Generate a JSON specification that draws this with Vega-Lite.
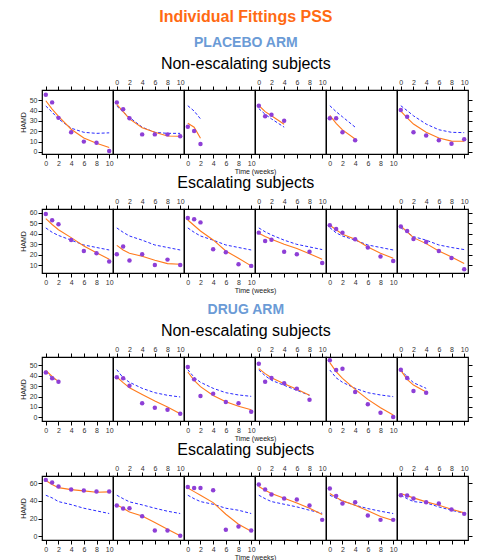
{
"$schema":"https://vega.github.io/schema/vega-lite/v6.json",
"padding":{"left":18,"top":9,"right":5,"bottom":0},
"title":{"text":"Individual Fittings PSS","fontSize":16,"fontWeight":"bold","color":"#ff6a13","offset":11},
"datasets":{
"r1":[
{"p":1,"t":0,"o":55.4,"f":49.6,"e":44.5},{"p":1,"t":1,"o":48,"f":41.5,"e":38.5},{"p":1,"t":2,"o":33,"f":34.5,"e":32},{"p":1,"t":4,"o":19,"f":22,"e":23},{"p":1,"t":6,"o":10,"f":13.5,"e":19},{"p":1,"t":8,"o":9,"f":8.5,"e":18},{"p":1,"t":10,"o":1,"f":4.2,"e":18.5},
{"p":2,"t":0,"o":48,"f":46,"e":44.5},{"p":2,"t":1,"o":41.3,"f":39,"e":38.5},{"p":2,"t":2,"o":32.6,"f":32,"e":33.5},{"p":2,"t":4,"o":17,"f":23.5,"e":24},{"p":2,"t":6,"o":17,"f":19,"e":19},{"p":2,"t":8,"o":17,"f":15.5,"e":18},{"p":2,"t":10,"o":15.2,"f":15.2,"e":18},
{"p":3,"t":0,"o":24.5,"f":27.7,"e":44.8},{"p":3,"t":1,"o":20.3,"f":24,"e":39.6},{"p":3,"t":2,"o":7.7,"f":13.2,"e":32},
{"p":4,"t":0,"o":44.8,"f":45,"e":42},{"p":4,"t":1,"o":34.5,"f":39,"e":36.5},{"p":4,"t":2,"o":36,"f":35,"e":32},{"p":4,"t":4,"o":30.3,"f":26.8,"e":24},
{"p":5,"t":0,"o":32.6,"f":35.5,"e":44.8},{"p":5,"t":1,"o":32.6,"f":27.7,"e":39},{"p":5,"t":2,"o":19,"f":21.3,"e":34},{"p":5,"t":4,"o":11.3,"f":12.6,"e":24},
{"p":6,"t":0,"o":40.6,"f":39.6,"e":44.8},{"p":6,"t":1,"o":34,"f":33,"e":40},{"p":6,"t":2,"o":19,"f":27,"e":35},{"p":6,"t":4,"o":16,"f":19,"e":27},{"p":6,"t":6,"o":11.3,"f":13.5,"e":21.5},{"p":6,"t":8,"o":8,"f":10.5,"e":19},{"p":6,"t":10,"o":12.3,"f":10.3,"e":18.7}
],
"r2":[
{"p":1,"t":0,"o":59,"f":54.6,"e":45.7},{"p":1,"t":1,"o":53,"f":49,"e":41.5},{"p":1,"t":2,"o":49.2,"f":44,"e":38.5},{"p":1,"t":4,"o":34.2,"f":36.4,"e":34},{"p":1,"t":6,"o":23.7,"f":28.5,"e":29.4},{"p":1,"t":8,"o":21.5,"f":22,"e":27},{"p":1,"t":10,"o":13.5,"f":15.7,"e":24.6},
{"p":2,"t":0,"o":20.5,"f":29,"e":45.7},{"p":2,"t":1,"o":28,"f":24.6,"e":41.5},{"p":2,"t":2,"o":14.5,"f":21.5,"e":38},{"p":2,"t":4,"o":20.5,"f":18.6,"e":34},{"p":2,"t":6,"o":10.3,"f":14.8,"e":29.4},{"p":2,"t":8,"o":15.4,"f":11.6,"e":27},{"p":2,"t":10,"o":10.3,"f":11,"e":24.6},
{"p":3,"t":0,"o":55.2,"f":53.3,"e":45.7},{"p":3,"t":1,"o":54,"f":48,"e":41.5},{"p":3,"t":2,"o":51,"f":42.8,"e":38},{"p":3,"t":4,"o":25.3,"f":34.2,"e":34},{"p":3,"t":6,"o":22.4,"f":23.7,"e":29.4},{"p":3,"t":8,"o":11,"f":16.7,"e":27},{"p":3,"t":10,"o":9.4,"f":9.4,"e":24.6},
{"p":4,"t":0,"o":41.2,"f":40.6,"e":45.7},{"p":4,"t":1,"o":33.2,"f":37.5,"e":42},{"p":4,"t":2,"o":34.5,"f":34.8,"e":39},{"p":4,"t":4,"o":23,"f":30,"e":34},{"p":4,"t":6,"o":20.5,"f":26,"e":30},{"p":4,"t":8,"o":23,"f":21,"e":27.5},{"p":4,"t":10,"o":12.2,"f":15.7,"e":25},
{"p":5,"t":0,"o":48.2,"f":48.2,"e":46},{"p":5,"t":1,"o":44.7,"f":44,"e":41},{"p":5,"t":2,"o":41.2,"f":39.6,"e":38},{"p":5,"t":4,"o":34.8,"f":34.8,"e":34},{"p":5,"t":6,"o":26.9,"f":27.5,"e":29.4},{"p":5,"t":8,"o":18.3,"f":21.5,"e":27},{"p":5,"t":10,"o":14.1,"f":16.7,"e":24.6},
{"p":6,"t":0,"o":47,"f":47.6,"e":46},{"p":6,"t":1,"o":42.8,"f":42,"e":41.5},{"p":6,"t":2,"o":35.2,"f":36.4,"e":37.4},{"p":6,"t":4,"o":32.3,"f":30.7,"e":34},{"p":6,"t":6,"o":23.7,"f":23.7,"e":29.4},{"p":6,"t":8,"o":17,"f":18,"e":27},{"p":6,"t":10,"o":6.2,"f":11.6,"e":25}
],
"r3":[
{"p":1,"t":0,"o":43,"f":45,"e":44},{"p":1,"t":1,"o":37.5,"f":39.4,"e":38},{"p":1,"t":2,"o":34.3,"f":34.3,"e":35},
{"p":2,"t":0,"o":38.5,"f":38.8,"e":45.8},{"p":2,"t":1,"o":37.5,"f":33.3,"e":38},{"p":2,"t":2,"o":30.4,"f":28.5,"e":33.7},{"p":2,"t":4,"o":13.5,"f":22,"e":27.9},{"p":2,"t":6,"o":9.3,"f":15.7,"e":23.7},{"p":2,"t":8,"o":7.4,"f":10,"e":21.2},{"p":2,"t":10,"o":3.5,"f":3.5,"e":19.6},
{"p":3,"t":0,"o":48.4,"f":43.6,"e":45.8},{"p":3,"t":1,"o":36.5,"f":35.6,"e":38.5},{"p":3,"t":2,"o":20.5,"f":29.5,"e":33.7},{"p":3,"t":4,"o":22.8,"f":21,"e":27.9},{"p":3,"t":6,"o":14.7,"f":15,"e":23.7},{"p":3,"t":8,"o":13.5,"f":10.6,"e":21.5},{"p":3,"t":10,"o":5.4,"f":7.4,"e":20.2},
{"p":4,"t":0,"o":51.6,"f":46.8,"e":45.5},{"p":4,"t":1,"o":34.3,"f":42,"e":40},{"p":4,"t":2,"o":37.8,"f":38.1,"e":35.6},{"p":4,"t":4,"o":32.7,"f":32.4,"e":30.8},{"p":4,"t":6,"o":27.6,"f":26.9,"e":26},{"p":4,"t":8,"o":17,"f":21.2,"e":21.2},
{"p":5,"t":0,"o":54.8,"f":52.6,"e":45.5},{"p":5,"t":1,"o":45.5,"f":43.9,"e":38},{"p":5,"t":2,"o":46.8,"f":37.5,"e":33.7},{"p":5,"t":4,"o":24.4,"f":26.9,"e":27.9},{"p":5,"t":6,"o":12.5,"f":17.3,"e":23.7},{"p":5,"t":8,"o":4.5,"f":9.3,"e":21.5},{"p":5,"t":10,"o":0.3,"f":2.2,"e":19.9},
{"p":6,"t":0,"o":45.8,"f":45.2,"e":45.8},{"p":6,"t":1,"o":37.8,"f":36.5,"e":39},{"p":6,"t":2,"o":25.3,"f":31,"e":33.3},{"p":6,"t":4,"o":23.7,"f":24.4,"e":27.9}
],
"r4":[
{"p":1,"t":0,"o":63.8,"f":63,"e":46.4},{"p":1,"t":1,"o":60.8,"f":58.5,"e":43.4},{"p":1,"t":2,"o":56.2,"f":55,"e":39.2},{"p":1,"t":4,"o":52.8,"f":52.8,"e":35.8},{"p":1,"t":6,"o":51.7,"f":51.3,"e":31.7},{"p":1,"t":8,"o":50.6,"f":49.8,"e":28.7},{"p":1,"t":10,"o":50.6,"f":50.2,"e":25.7},
{"p":2,"t":0,"o":34.7,"f":35.5,"e":46.4},{"p":2,"t":1,"o":31.3,"f":31.7,"e":42.5},{"p":2,"t":2,"o":31.7,"f":27.5,"e":38.9},{"p":2,"t":4,"o":22.6,"f":23,"e":35.5},{"p":2,"t":6,"o":6.4,"f":15.5,"e":31.7},{"p":2,"t":8,"o":6.4,"f":7.9,"e":28.3},{"p":2,"t":10,"o":0.4,"f":0.4,"e":25.7},
{"p":3,"t":0,"o":55.8,"f":54.7,"e":46.4},{"p":3,"t":1,"o":54.7,"f":50.5,"e":42.5},{"p":3,"t":2,"o":54.7,"f":46.4,"e":39.2},{"p":3,"t":4,"o":52,"f":38.1,"e":36.2},{"p":3,"t":6,"o":7.2,"f":24.9,"e":31.7},{"p":3,"t":8,"o":10.9,"f":13.6,"e":29.4},{"p":3,"t":10,"o":6.4,"f":5.7,"e":25.7},
{"p":4,"t":0,"o":58.5,"f":56.2,"e":46.4},{"p":4,"t":1,"o":52.8,"f":52,"e":42.5},{"p":4,"t":2,"o":47.2,"f":48.3,"e":39.2},{"p":4,"t":4,"o":42.6,"f":43,"e":36.2},{"p":4,"t":6,"o":41.5,"f":37.7,"e":33.2},{"p":4,"t":8,"o":34.7,"f":31.7,"e":29.4},{"p":4,"t":10,"o":18.5,"f":24.5,"e":26},
{"p":5,"t":0,"o":54,"f":48.3,"e":46.4},{"p":5,"t":1,"o":45.7,"f":44,"e":43},{"p":5,"t":2,"o":37,"f":40,"e":40},{"p":5,"t":4,"o":38.5,"f":35.1,"e":35.1},{"p":5,"t":6,"o":23.4,"f":28.7,"e":31.3},{"p":5,"t":8,"o":18.5,"f":22.3,"e":28.3},{"p":5,"t":10,"o":18.5,"f":17.7,"e":25.7},
{"p":6,"t":0,"o":46.4,"f":48.3,"e":46.4},{"p":6,"t":1,"o":46,"f":45.8,"e":42.5},{"p":6,"t":2,"o":42.6,"f":43.4,"e":39.2},{"p":6,"t":4,"o":38.5,"f":38.9,"e":37.7},{"p":6,"t":6,"o":37,"f":35.1,"e":33.2},{"p":6,"t":8,"o":30.2,"f":30.6,"e":29.4},{"p":6,"t":10,"o":25.3,"f":26.4,"e":26}
]
},
"spacing":9,
"vconcat":[
{"title":{"text":"PLACEBO ARM","fontSize":14,"fontWeight":"bold","color":"#6b9bd6","offset":6},"spacing":0,"vconcat":[
 {"title":{"text":"Non-escalating subjects","offset":5},"spacing":0,"bounds":"flush","hconcat":[
  {"width":71,"height":64,"data":{"name":"r1"},"transform":[{"filter":"datum.p==1"}],"resolve":{"axis":{"x":"independent","y":"independent"}},"layer":[
   {"mark":{"type":"line","stroke":"#2a2aff","strokeDash":[3,2],"strokeWidth":1},"encoding":{"x":{"field":"t","type":"quantitative","scale":{"domain":[-0.6,10.6],"nice":false,"zero":false},"axis":{"orient":"bottom","values":[0,2,4,6,8,10],"labels":true,"title":null}},"y":{"field":"e","type":"quantitative","scale":{"domain":[-2,60],"nice":false,"zero":false},"axis":{"orient":"left","values":[0,10,20,30,40,50],"title":"HAMD"}}}},
   {"mark":{"type":"line","stroke":"#ff7a1c","strokeWidth":1.1},"encoding":{"x":{"field":"t","type":"quantitative","axis":{"orient":"top","values":[0,2,4,6,8,10],"labels":false,"title":null}},"y":{"field":"f","type":"quantitative","axis":null}}},
   {"mark":{"type":"circle","fill":"#8e3fd6","size":20,"opacity":1},"encoding":{"x":{"field":"t","type":"quantitative","axis":null},"y":{"field":"o","type":"quantitative","axis":null}}}]},
  {"width":71,"height":64,"data":{"name":"r1"},"transform":[{"filter":"datum.p==2"}],"resolve":{"axis":{"x":"independent","y":"independent"}},"layer":[
   {"mark":{"type":"line","stroke":"#2a2aff","strokeDash":[3,2],"strokeWidth":1},"encoding":{"x":{"field":"t","type":"quantitative","scale":{"domain":[-0.6,10.6],"nice":false,"zero":false},"axis":{"orient":"bottom","values":[0,2,4,6,8,10],"labels":false,"title":null}},"y":{"field":"e","type":"quantitative","scale":{"domain":[-2,60],"nice":false,"zero":false},"axis":null}}},
   {"mark":{"type":"line","stroke":"#ff7a1c","strokeWidth":1.1},"encoding":{"x":{"field":"t","type":"quantitative","axis":{"orient":"top","values":[0,2,4,6,8,10],"labels":true,"title":null}},"y":{"field":"f","type":"quantitative","axis":null}}},
   {"mark":{"type":"circle","fill":"#8e3fd6","size":20,"opacity":1},"encoding":{"x":{"field":"t","type":"quantitative","axis":null},"y":{"field":"o","type":"quantitative","axis":null}}}]},
  {"width":71,"height":64,"data":{"name":"r1"},"transform":[{"filter":"datum.p==3"}],"resolve":{"axis":{"x":"independent","y":"independent"}},"layer":[
   {"mark":{"type":"line","stroke":"#2a2aff","strokeDash":[3,2],"strokeWidth":1},"encoding":{"x":{"field":"t","type":"quantitative","scale":{"domain":[-0.6,10.6],"nice":false,"zero":false},"axis":{"orient":"bottom","values":[0,2,4,6,8,10],"labels":true,"title":"Time (weeks)","titleAnchor":"end","titleAlign":"center","titleFontSize":7,"titlePadding":1}},"y":{"field":"e","type":"quantitative","scale":{"domain":[-2,60],"nice":false,"zero":false},"axis":null}}},
   {"mark":{"type":"line","stroke":"#ff7a1c","strokeWidth":1.1},"encoding":{"x":{"field":"t","type":"quantitative","axis":{"orient":"top","values":[0,2,4,6,8,10],"labels":false,"title":null}},"y":{"field":"f","type":"quantitative","axis":null}}},
   {"mark":{"type":"circle","fill":"#8e3fd6","size":20,"opacity":1},"encoding":{"x":{"field":"t","type":"quantitative","axis":null},"y":{"field":"o","type":"quantitative","axis":null}}}]},
  {"width":71,"height":64,"data":{"name":"r1"},"transform":[{"filter":"datum.p==4"}],"resolve":{"axis":{"x":"independent","y":"independent"}},"layer":[
   {"mark":{"type":"line","stroke":"#2a2aff","strokeDash":[3,2],"strokeWidth":1},"encoding":{"x":{"field":"t","type":"quantitative","scale":{"domain":[-0.6,10.6],"nice":false,"zero":false},"axis":{"orient":"bottom","values":[0,2,4,6,8,10],"labels":false,"title":null}},"y":{"field":"e","type":"quantitative","scale":{"domain":[-2,60],"nice":false,"zero":false},"axis":null}}},
   {"mark":{"type":"line","stroke":"#ff7a1c","strokeWidth":1.1},"encoding":{"x":{"field":"t","type":"quantitative","axis":{"orient":"top","values":[0,2,4,6,8,10],"labels":true,"title":null}},"y":{"field":"f","type":"quantitative","axis":null}}},
   {"mark":{"type":"circle","fill":"#8e3fd6","size":20,"opacity":1},"encoding":{"x":{"field":"t","type":"quantitative","axis":null},"y":{"field":"o","type":"quantitative","axis":null}}}]},
  {"width":71,"height":64,"data":{"name":"r1"},"transform":[{"filter":"datum.p==5"}],"resolve":{"axis":{"x":"independent","y":"independent"}},"layer":[
   {"mark":{"type":"line","stroke":"#2a2aff","strokeDash":[3,2],"strokeWidth":1},"encoding":{"x":{"field":"t","type":"quantitative","scale":{"domain":[-0.6,10.6],"nice":false,"zero":false},"axis":{"orient":"bottom","values":[0,2,4,6,8,10],"labels":true,"title":null}},"y":{"field":"e","type":"quantitative","scale":{"domain":[-2,60],"nice":false,"zero":false},"axis":null}}},
   {"mark":{"type":"line","stroke":"#ff7a1c","strokeWidth":1.1},"encoding":{"x":{"field":"t","type":"quantitative","axis":{"orient":"top","values":[0,2,4,6,8,10],"labels":false,"title":null}},"y":{"field":"f","type":"quantitative","axis":null}}},
   {"mark":{"type":"circle","fill":"#8e3fd6","size":20,"opacity":1},"encoding":{"x":{"field":"t","type":"quantitative","axis":null},"y":{"field":"o","type":"quantitative","axis":null}}}]},
  {"width":71,"height":64,"data":{"name":"r1"},"transform":[{"filter":"datum.p==6"}],"resolve":{"axis":{"x":"independent","y":"independent"}},"layer":[
   {"mark":{"type":"line","stroke":"#2a2aff","strokeDash":[3,2],"strokeWidth":1},"encoding":{"x":{"field":"t","type":"quantitative","scale":{"domain":[-0.6,10.6],"nice":false,"zero":false},"axis":{"orient":"bottom","values":[0,2,4,6,8,10],"labels":false,"title":null}},"y":{"field":"e","type":"quantitative","scale":{"domain":[-2,60],"nice":false,"zero":false},"axis":null}}},
   {"mark":{"type":"line","stroke":"#ff7a1c","strokeWidth":1.1},"encoding":{"x":{"field":"t","type":"quantitative","axis":{"orient":"top","values":[0,2,4,6,8,10],"labels":true,"title":null}},"y":{"field":"f","type":"quantitative","axis":{"orient":"right","values":[0,10,20,30,40,50],"labels":false,"title":null}}}},
   {"mark":{"type":"circle","fill":"#8e3fd6","size":20,"opacity":1},"encoding":{"x":{"field":"t","type":"quantitative","axis":null},"y":{"field":"o","type":"quantitative","axis":null}}}]}
 ]},
 {"title":{"text":"Escalating subjects","offset":5},"spacing":0,"bounds":"flush","hconcat":[
  {"width":71,"height":64,"data":{"name":"r2"},"transform":[{"filter":"datum.p==1"}],"resolve":{"axis":{"x":"independent","y":"independent"}},"layer":[
   {"mark":{"type":"line","stroke":"#2a2aff","strokeDash":[3,2],"strokeWidth":1},"encoding":{"x":{"field":"t","type":"quantitative","scale":{"domain":[-0.6,10.6],"nice":false,"zero":false},"axis":{"orient":"bottom","values":[0,2,4,6,8,10],"labels":true,"title":null}},"y":{"field":"e","type":"quantitative","scale":{"domain":[2.6,63.8],"nice":false,"zero":false},"axis":{"orient":"left","values":[10,20,30,40,50,60],"title":"HAMD"}}}},
   {"mark":{"type":"line","stroke":"#ff7a1c","strokeWidth":1.1},"encoding":{"x":{"field":"t","type":"quantitative","axis":{"orient":"top","values":[0,2,4,6,8,10],"labels":false,"title":null}},"y":{"field":"f","type":"quantitative","axis":null}}},
   {"mark":{"type":"circle","fill":"#8e3fd6","size":20,"opacity":1},"encoding":{"x":{"field":"t","type":"quantitative","axis":null},"y":{"field":"o","type":"quantitative","axis":null}}}]},
  {"width":71,"height":64,"data":{"name":"r2"},"transform":[{"filter":"datum.p==2"}],"resolve":{"axis":{"x":"independent","y":"independent"}},"layer":[
   {"mark":{"type":"line","stroke":"#2a2aff","strokeDash":[3,2],"strokeWidth":1},"encoding":{"x":{"field":"t","type":"quantitative","scale":{"domain":[-0.6,10.6],"nice":false,"zero":false},"axis":{"orient":"bottom","values":[0,2,4,6,8,10],"labels":false,"title":null}},"y":{"field":"e","type":"quantitative","scale":{"domain":[2.6,63.8],"nice":false,"zero":false},"axis":null}}},
   {"mark":{"type":"line","stroke":"#ff7a1c","strokeWidth":1.1},"encoding":{"x":{"field":"t","type":"quantitative","axis":{"orient":"top","values":[0,2,4,6,8,10],"labels":true,"title":null}},"y":{"field":"f","type":"quantitative","axis":null}}},
   {"mark":{"type":"circle","fill":"#8e3fd6","size":20,"opacity":1},"encoding":{"x":{"field":"t","type":"quantitative","axis":null},"y":{"field":"o","type":"quantitative","axis":null}}}]},
  {"width":71,"height":64,"data":{"name":"r2"},"transform":[{"filter":"datum.p==3"}],"resolve":{"axis":{"x":"independent","y":"independent"}},"layer":[
   {"mark":{"type":"line","stroke":"#2a2aff","strokeDash":[3,2],"strokeWidth":1},"encoding":{"x":{"field":"t","type":"quantitative","scale":{"domain":[-0.6,10.6],"nice":false,"zero":false},"axis":{"orient":"bottom","values":[0,2,4,6,8,10],"labels":true,"title":"Time (weeks)","titleAnchor":"end","titleAlign":"center","titleFontSize":7,"titlePadding":1}},"y":{"field":"e","type":"quantitative","scale":{"domain":[2.6,63.8],"nice":false,"zero":false},"axis":null}}},
   {"mark":{"type":"line","stroke":"#ff7a1c","strokeWidth":1.1},"encoding":{"x":{"field":"t","type":"quantitative","axis":{"orient":"top","values":[0,2,4,6,8,10],"labels":false,"title":null}},"y":{"field":"f","type":"quantitative","axis":null}}},
   {"mark":{"type":"circle","fill":"#8e3fd6","size":20,"opacity":1},"encoding":{"x":{"field":"t","type":"quantitative","axis":null},"y":{"field":"o","type":"quantitative","axis":null}}}]},
  {"width":71,"height":64,"data":{"name":"r2"},"transform":[{"filter":"datum.p==4"}],"resolve":{"axis":{"x":"independent","y":"independent"}},"layer":[
   {"mark":{"type":"line","stroke":"#2a2aff","strokeDash":[3,2],"strokeWidth":1},"encoding":{"x":{"field":"t","type":"quantitative","scale":{"domain":[-0.6,10.6],"nice":false,"zero":false},"axis":{"orient":"bottom","values":[0,2,4,6,8,10],"labels":false,"title":null}},"y":{"field":"e","type":"quantitative","scale":{"domain":[2.6,63.8],"nice":false,"zero":false},"axis":null}}},
   {"mark":{"type":"line","stroke":"#ff7a1c","strokeWidth":1.1},"encoding":{"x":{"field":"t","type":"quantitative","axis":{"orient":"top","values":[0,2,4,6,8,10],"labels":true,"title":null}},"y":{"field":"f","type":"quantitative","axis":null}}},
   {"mark":{"type":"circle","fill":"#8e3fd6","size":20,"opacity":1},"encoding":{"x":{"field":"t","type":"quantitative","axis":null},"y":{"field":"o","type":"quantitative","axis":null}}}]},
  {"width":71,"height":64,"data":{"name":"r2"},"transform":[{"filter":"datum.p==5"}],"resolve":{"axis":{"x":"independent","y":"independent"}},"layer":[
   {"mark":{"type":"line","stroke":"#2a2aff","strokeDash":[3,2],"strokeWidth":1},"encoding":{"x":{"field":"t","type":"quantitative","scale":{"domain":[-0.6,10.6],"nice":false,"zero":false},"axis":{"orient":"bottom","values":[0,2,4,6,8,10],"labels":true,"title":null}},"y":{"field":"e","type":"quantitative","scale":{"domain":[2.6,63.8],"nice":false,"zero":false},"axis":null}}},
   {"mark":{"type":"line","stroke":"#ff7a1c","strokeWidth":1.1},"encoding":{"x":{"field":"t","type":"quantitative","axis":{"orient":"top","values":[0,2,4,6,8,10],"labels":false,"title":null}},"y":{"field":"f","type":"quantitative","axis":null}}},
   {"mark":{"type":"circle","fill":"#8e3fd6","size":20,"opacity":1},"encoding":{"x":{"field":"t","type":"quantitative","axis":null},"y":{"field":"o","type":"quantitative","axis":null}}}]},
  {"width":71,"height":64,"data":{"name":"r2"},"transform":[{"filter":"datum.p==6"}],"resolve":{"axis":{"x":"independent","y":"independent"}},"layer":[
   {"mark":{"type":"line","stroke":"#2a2aff","strokeDash":[3,2],"strokeWidth":1},"encoding":{"x":{"field":"t","type":"quantitative","scale":{"domain":[-0.6,10.6],"nice":false,"zero":false},"axis":{"orient":"bottom","values":[0,2,4,6,8,10],"labels":false,"title":null}},"y":{"field":"e","type":"quantitative","scale":{"domain":[2.6,63.8],"nice":false,"zero":false},"axis":null}}},
   {"mark":{"type":"line","stroke":"#ff7a1c","strokeWidth":1.1},"encoding":{"x":{"field":"t","type":"quantitative","axis":{"orient":"top","values":[0,2,4,6,8,10],"labels":true,"title":null}},"y":{"field":"f","type":"quantitative","axis":{"orient":"right","values":[10,20,30,40,50,60],"labels":false,"title":null}}}},
   {"mark":{"type":"circle","fill":"#8e3fd6","size":20,"opacity":1},"encoding":{"x":{"field":"t","type":"quantitative","axis":null},"y":{"field":"o","type":"quantitative","axis":null}}}]}
 ]}
]},
{"title":{"text":"DRUG ARM","fontSize":14,"fontWeight":"bold","color":"#6b9bd6","offset":6},"spacing":0,"vconcat":[
 {"title":{"text":"Non-escalating subjects","offset":5},"spacing":0,"bounds":"flush","hconcat":[
  {"width":71,"height":64,"data":{"name":"r3"},"transform":[{"filter":"datum.p==1"}],"resolve":{"axis":{"x":"independent","y":"independent"}},"layer":[
   {"mark":{"type":"line","stroke":"#2a2aff","strokeDash":[3,2],"strokeWidth":1},"encoding":{"x":{"field":"t","type":"quantitative","scale":{"domain":[-0.6,10.6],"nice":false,"zero":false},"axis":{"orient":"bottom","values":[0,2,4,6,8,10],"labels":true,"title":null}},"y":{"field":"e","type":"quantitative","scale":{"domain":[-3.5,58],"nice":false,"zero":false},"axis":{"orient":"left","values":[0,10,20,30,40,50],"title":"HAMD"}}}},
   {"mark":{"type":"line","stroke":"#ff7a1c","strokeWidth":1.1},"encoding":{"x":{"field":"t","type":"quantitative","axis":{"orient":"top","values":[0,2,4,6,8,10],"labels":false,"title":null}},"y":{"field":"f","type":"quantitative","axis":null}}},
   {"mark":{"type":"circle","fill":"#8e3fd6","size":20,"opacity":1},"encoding":{"x":{"field":"t","type":"quantitative","axis":null},"y":{"field":"o","type":"quantitative","axis":null}}}]},
  {"width":71,"height":64,"data":{"name":"r3"},"transform":[{"filter":"datum.p==2"}],"resolve":{"axis":{"x":"independent","y":"independent"}},"layer":[
   {"mark":{"type":"line","stroke":"#2a2aff","strokeDash":[3,2],"strokeWidth":1},"encoding":{"x":{"field":"t","type":"quantitative","scale":{"domain":[-0.6,10.6],"nice":false,"zero":false},"axis":{"orient":"bottom","values":[0,2,4,6,8,10],"labels":false,"title":null}},"y":{"field":"e","type":"quantitative","scale":{"domain":[-3.5,58],"nice":false,"zero":false},"axis":null}}},
   {"mark":{"type":"line","stroke":"#ff7a1c","strokeWidth":1.1},"encoding":{"x":{"field":"t","type":"quantitative","axis":{"orient":"top","values":[0,2,4,6,8,10],"labels":true,"title":null}},"y":{"field":"f","type":"quantitative","axis":null}}},
   {"mark":{"type":"circle","fill":"#8e3fd6","size":20,"opacity":1},"encoding":{"x":{"field":"t","type":"quantitative","axis":null},"y":{"field":"o","type":"quantitative","axis":null}}}]},
  {"width":71,"height":64,"data":{"name":"r3"},"transform":[{"filter":"datum.p==3"}],"resolve":{"axis":{"x":"independent","y":"independent"}},"layer":[
   {"mark":{"type":"line","stroke":"#2a2aff","strokeDash":[3,2],"strokeWidth":1},"encoding":{"x":{"field":"t","type":"quantitative","scale":{"domain":[-0.6,10.6],"nice":false,"zero":false},"axis":{"orient":"bottom","values":[0,2,4,6,8,10],"labels":true,"title":"Time (weeks)","titleAnchor":"end","titleAlign":"center","titleFontSize":7,"titlePadding":1}},"y":{"field":"e","type":"quantitative","scale":{"domain":[-3.5,58],"nice":false,"zero":false},"axis":null}}},
   {"mark":{"type":"line","stroke":"#ff7a1c","strokeWidth":1.1},"encoding":{"x":{"field":"t","type":"quantitative","axis":{"orient":"top","values":[0,2,4,6,8,10],"labels":false,"title":null}},"y":{"field":"f","type":"quantitative","axis":null}}},
   {"mark":{"type":"circle","fill":"#8e3fd6","size":20,"opacity":1},"encoding":{"x":{"field":"t","type":"quantitative","axis":null},"y":{"field":"o","type":"quantitative","axis":null}}}]},
  {"width":71,"height":64,"data":{"name":"r3"},"transform":[{"filter":"datum.p==4"}],"resolve":{"axis":{"x":"independent","y":"independent"}},"layer":[
   {"mark":{"type":"line","stroke":"#2a2aff","strokeDash":[3,2],"strokeWidth":1},"encoding":{"x":{"field":"t","type":"quantitative","scale":{"domain":[-0.6,10.6],"nice":false,"zero":false},"axis":{"orient":"bottom","values":[0,2,4,6,8,10],"labels":false,"title":null}},"y":{"field":"e","type":"quantitative","scale":{"domain":[-3.5,58],"nice":false,"zero":false},"axis":null}}},
   {"mark":{"type":"line","stroke":"#ff7a1c","strokeWidth":1.1},"encoding":{"x":{"field":"t","type":"quantitative","axis":{"orient":"top","values":[0,2,4,6,8,10],"labels":true,"title":null}},"y":{"field":"f","type":"quantitative","axis":null}}},
   {"mark":{"type":"circle","fill":"#8e3fd6","size":20,"opacity":1},"encoding":{"x":{"field":"t","type":"quantitative","axis":null},"y":{"field":"o","type":"quantitative","axis":null}}}]},
  {"width":71,"height":64,"data":{"name":"r3"},"transform":[{"filter":"datum.p==5"}],"resolve":{"axis":{"x":"independent","y":"independent"}},"layer":[
   {"mark":{"type":"line","stroke":"#2a2aff","strokeDash":[3,2],"strokeWidth":1},"encoding":{"x":{"field":"t","type":"quantitative","scale":{"domain":[-0.6,10.6],"nice":false,"zero":false},"axis":{"orient":"bottom","values":[0,2,4,6,8,10],"labels":true,"title":null}},"y":{"field":"e","type":"quantitative","scale":{"domain":[-3.5,58],"nice":false,"zero":false},"axis":null}}},
   {"mark":{"type":"line","stroke":"#ff7a1c","strokeWidth":1.1},"encoding":{"x":{"field":"t","type":"quantitative","axis":{"orient":"top","values":[0,2,4,6,8,10],"labels":false,"title":null}},"y":{"field":"f","type":"quantitative","axis":null}}},
   {"mark":{"type":"circle","fill":"#8e3fd6","size":20,"opacity":1},"encoding":{"x":{"field":"t","type":"quantitative","axis":null},"y":{"field":"o","type":"quantitative","axis":null}}}]},
  {"width":71,"height":64,"data":{"name":"r3"},"transform":[{"filter":"datum.p==6"}],"resolve":{"axis":{"x":"independent","y":"independent"}},"layer":[
   {"mark":{"type":"line","stroke":"#2a2aff","strokeDash":[3,2],"strokeWidth":1},"encoding":{"x":{"field":"t","type":"quantitative","scale":{"domain":[-0.6,10.6],"nice":false,"zero":false},"axis":{"orient":"bottom","values":[0,2,4,6,8,10],"labels":false,"title":null}},"y":{"field":"e","type":"quantitative","scale":{"domain":[-3.5,58],"nice":false,"zero":false},"axis":null}}},
   {"mark":{"type":"line","stroke":"#ff7a1c","strokeWidth":1.1},"encoding":{"x":{"field":"t","type":"quantitative","axis":{"orient":"top","values":[0,2,4,6,8,10],"labels":true,"title":null}},"y":{"field":"f","type":"quantitative","axis":{"orient":"right","values":[0,10,20,30,40,50],"labels":false,"title":null}}}},
   {"mark":{"type":"circle","fill":"#8e3fd6","size":20,"opacity":1},"encoding":{"x":{"field":"t","type":"quantitative","axis":null},"y":{"field":"o","type":"quantitative","axis":null}}}]}
 ]},
 {"title":{"text":"Escalating subjects","offset":5},"spacing":0,"bounds":"flush","hconcat":[
  {"width":71,"height":64,"data":{"name":"r4"},"transform":[{"filter":"datum.p==1"}],"resolve":{"axis":{"x":"independent","y":"independent"}},"layer":[
   {"mark":{"type":"line","stroke":"#2a2aff","strokeDash":[3,2],"strokeWidth":1},"encoding":{"x":{"field":"t","type":"quantitative","scale":{"domain":[-0.6,10.6],"nice":false,"zero":false},"axis":{"orient":"bottom","values":[0,2,4,6,8,10],"labels":true,"title":null}},"y":{"field":"e","type":"quantitative","scale":{"domain":[-4.3,68.2],"nice":false,"zero":false},"axis":{"orient":"left","values":[0,20,40,60],"title":"HAMD"}}}},
   {"mark":{"type":"line","stroke":"#ff7a1c","strokeWidth":1.1},"encoding":{"x":{"field":"t","type":"quantitative","axis":{"orient":"top","values":[0,2,4,6,8,10],"labels":false,"title":null}},"y":{"field":"f","type":"quantitative","axis":null}}},
   {"mark":{"type":"circle","fill":"#8e3fd6","size":20,"opacity":1},"encoding":{"x":{"field":"t","type":"quantitative","axis":null},"y":{"field":"o","type":"quantitative","axis":null}}}]},
  {"width":71,"height":64,"data":{"name":"r4"},"transform":[{"filter":"datum.p==2"}],"resolve":{"axis":{"x":"independent","y":"independent"}},"layer":[
   {"mark":{"type":"line","stroke":"#2a2aff","strokeDash":[3,2],"strokeWidth":1},"encoding":{"x":{"field":"t","type":"quantitative","scale":{"domain":[-0.6,10.6],"nice":false,"zero":false},"axis":{"orient":"bottom","values":[0,2,4,6,8,10],"labels":false,"title":null}},"y":{"field":"e","type":"quantitative","scale":{"domain":[-4.3,68.2],"nice":false,"zero":false},"axis":null}}},
   {"mark":{"type":"line","stroke":"#ff7a1c","strokeWidth":1.1},"encoding":{"x":{"field":"t","type":"quantitative","axis":{"orient":"top","values":[0,2,4,6,8,10],"labels":true,"title":null}},"y":{"field":"f","type":"quantitative","axis":null}}},
   {"mark":{"type":"circle","fill":"#8e3fd6","size":20,"opacity":1},"encoding":{"x":{"field":"t","type":"quantitative","axis":null},"y":{"field":"o","type":"quantitative","axis":null}}}]},
  {"width":71,"height":64,"data":{"name":"r4"},"transform":[{"filter":"datum.p==3"}],"resolve":{"axis":{"x":"independent","y":"independent"}},"layer":[
   {"mark":{"type":"line","stroke":"#2a2aff","strokeDash":[3,2],"strokeWidth":1},"encoding":{"x":{"field":"t","type":"quantitative","scale":{"domain":[-0.6,10.6],"nice":false,"zero":false},"axis":{"orient":"bottom","values":[0,2,4,6,8,10],"labels":true,"title":"Time (weeks)","titleAnchor":"end","titleAlign":"center","titleFontSize":7,"titlePadding":1}},"y":{"field":"e","type":"quantitative","scale":{"domain":[-4.3,68.2],"nice":false,"zero":false},"axis":null}}},
   {"mark":{"type":"line","stroke":"#ff7a1c","strokeWidth":1.1},"encoding":{"x":{"field":"t","type":"quantitative","axis":{"orient":"top","values":[0,2,4,6,8,10],"labels":false,"title":null}},"y":{"field":"f","type":"quantitative","axis":null}}},
   {"mark":{"type":"circle","fill":"#8e3fd6","size":20,"opacity":1},"encoding":{"x":{"field":"t","type":"quantitative","axis":null},"y":{"field":"o","type":"quantitative","axis":null}}}]},
  {"width":71,"height":64,"data":{"name":"r4"},"transform":[{"filter":"datum.p==4"}],"resolve":{"axis":{"x":"independent","y":"independent"}},"layer":[
   {"mark":{"type":"line","stroke":"#2a2aff","strokeDash":[3,2],"strokeWidth":1},"encoding":{"x":{"field":"t","type":"quantitative","scale":{"domain":[-0.6,10.6],"nice":false,"zero":false},"axis":{"orient":"bottom","values":[0,2,4,6,8,10],"labels":false,"title":null}},"y":{"field":"e","type":"quantitative","scale":{"domain":[-4.3,68.2],"nice":false,"zero":false},"axis":null}}},
   {"mark":{"type":"line","stroke":"#ff7a1c","strokeWidth":1.1},"encoding":{"x":{"field":"t","type":"quantitative","axis":{"orient":"top","values":[0,2,4,6,8,10],"labels":true,"title":null}},"y":{"field":"f","type":"quantitative","axis":null}}},
   {"mark":{"type":"circle","fill":"#8e3fd6","size":20,"opacity":1},"encoding":{"x":{"field":"t","type":"quantitative","axis":null},"y":{"field":"o","type":"quantitative","axis":null}}}]},
  {"width":71,"height":64,"data":{"name":"r4"},"transform":[{"filter":"datum.p==5"}],"resolve":{"axis":{"x":"independent","y":"independent"}},"layer":[
   {"mark":{"type":"line","stroke":"#2a2aff","strokeDash":[3,2],"strokeWidth":1},"encoding":{"x":{"field":"t","type":"quantitative","scale":{"domain":[-0.6,10.6],"nice":false,"zero":false},"axis":{"orient":"bottom","values":[0,2,4,6,8,10],"labels":true,"title":null}},"y":{"field":"e","type":"quantitative","scale":{"domain":[-4.3,68.2],"nice":false,"zero":false},"axis":null}}},
   {"mark":{"type":"line","stroke":"#ff7a1c","strokeWidth":1.1},"encoding":{"x":{"field":"t","type":"quantitative","axis":{"orient":"top","values":[0,2,4,6,8,10],"labels":false,"title":null}},"y":{"field":"f","type":"quantitative","axis":null}}},
   {"mark":{"type":"circle","fill":"#8e3fd6","size":20,"opacity":1},"encoding":{"x":{"field":"t","type":"quantitative","axis":null},"y":{"field":"o","type":"quantitative","axis":null}}}]},
  {"width":71,"height":64,"data":{"name":"r4"},"transform":[{"filter":"datum.p==6"}],"resolve":{"axis":{"x":"independent","y":"independent"}},"layer":[
   {"mark":{"type":"line","stroke":"#2a2aff","strokeDash":[3,2],"strokeWidth":1},"encoding":{"x":{"field":"t","type":"quantitative","scale":{"domain":[-0.6,10.6],"nice":false,"zero":false},"axis":{"orient":"bottom","values":[0,2,4,6,8,10],"labels":false,"title":null}},"y":{"field":"e","type":"quantitative","scale":{"domain":[-4.3,68.2],"nice":false,"zero":false},"axis":null}}},
   {"mark":{"type":"line","stroke":"#ff7a1c","strokeWidth":1.1},"encoding":{"x":{"field":"t","type":"quantitative","axis":{"orient":"top","values":[0,2,4,6,8,10],"labels":true,"title":null}},"y":{"field":"f","type":"quantitative","axis":{"orient":"right","values":[0,20,40,60],"labels":false,"title":null}}}},
   {"mark":{"type":"circle","fill":"#8e3fd6","size":20,"opacity":1},"encoding":{"x":{"field":"t","type":"quantitative","axis":null},"y":{"field":"o","type":"quantitative","axis":null}}}]}
 ]}
]}
],
"config":{
 "font":"Liberation Sans",
 "view":{"stroke":"black","strokeWidth":1.2},
 "axis":{"grid":false,"domain":false,"tickColor":"black","tickSize":4,"tickWidth":1,"labelFontSize":7,"labelColor":"#333","labelPadding":1,"labelFont":"Liberation Sans","titleFont":"Liberation Sans","titleFontSize":7,"titleFontWeight":"normal","titleColor":"#222","titlePadding":3},
 "title":{"fontWeight":"normal","fontSize":16,"color":"black","font":"Liberation Sans","anchor":"middle"}
}
}
